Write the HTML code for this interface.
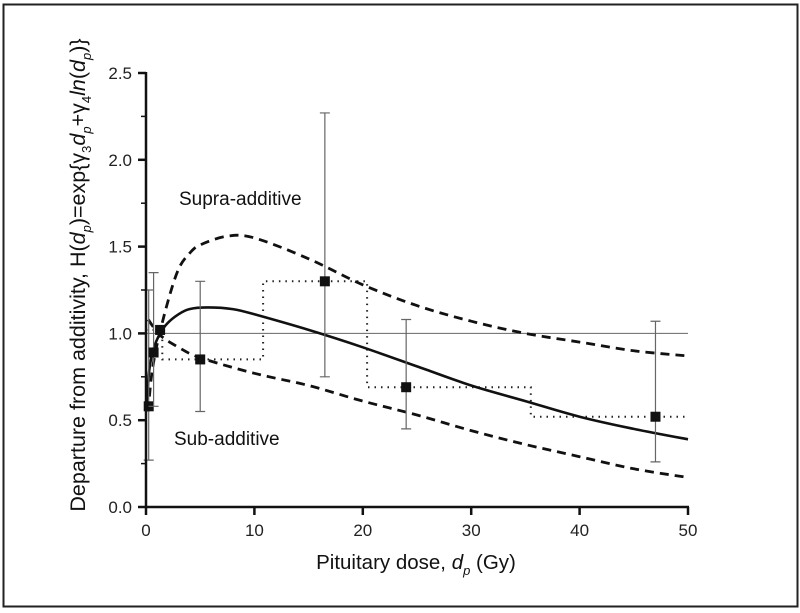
<!DOCTYPE html>
<html><head><meta charset="utf-8">
<style>
html,body{margin:0;padding:0;background:#fff;}
svg{display:block;font-family:"Liberation Sans",Arial,sans-serif;}
</style></head>
<body>
<svg id="chart" width="800" height="613" viewBox="0 0 800 613">
<rect x="3.5" y="4.5" width="794" height="602" fill="none" stroke="#222" stroke-width="2"/>
<g id="plot"></g>
<text x="179" y="205" font-size="19" fill="#111">Supra-additive</text>
<text x="174" y="445" font-size="19" fill="#111">Sub-additive</text>
<text x="416" y="569" font-size="20.5" text-anchor="middle" fill="#111">Pituitary dose, <tspan font-style="italic">d</tspan><tspan font-size="13" font-style="italic" dy="6">p</tspan><tspan dy="-6"> (Gy)</tspan></text>
<text transform="translate(85,275) rotate(-90)" font-size="21.5" text-anchor="middle" fill="#111">Departure from additivity, H(<tspan font-style="italic">d</tspan><tspan font-size="13" font-style="italic" dy="6">p</tspan><tspan dy="-6">)=exp{γ</tspan><tspan font-size="13" dy="6">3</tspan><tspan dy="-6" font-style="italic">d</tspan><tspan font-size="13" font-style="italic" dy="6">p</tspan><tspan dy="-6">+γ</tspan><tspan font-size="13" dy="6">4</tspan><tspan dy="-6" font-style="italic">ln</tspan><tspan>(</tspan><tspan font-style="italic">d</tspan><tspan font-size="13" font-style="italic" dy="6">p</tspan><tspan dy="-6">)}</tspan></text>
</svg>
<script>
const xTicks=[0,10,20,30,40,50];
const yTicks=[0.0,0.5,1.0,1.5,2.0,2.5];
const yTickLabels=["0.0","0.5","1.0","1.5","2.0","2.5"];
const yMinor=[0.25,0.75,1.25,1.75,2.25];
const pointX=[0.25,0.7,1.3,5,16.5,24,47];
const pointY=[0.58,0.89,1.02,0.85,1.30,0.69,0.52];
const errLo=[0.27,0.58,1.0,0.55,0.75,0.45,0.26];
const errHi=[1.25,1.35,1.02,1.30,2.27,1.08,1.07];
const stepX=[0,1.5,1.5,10.8,10.8,20.4,20.4,35.5,35.5,50];
const stepY=[1.02,1.02,0.85,0.85,1.30,1.30,0.69,0.69,0.52,0.52];
const fitX=[0.05,0.3,0.7,1.3,2,3,4,5.7,8,10,15,20,25,30,35,40,45,50];
const fitY=[0.56,0.79,0.91,1.00,1.06,1.11,1.14,1.15,1.14,1.11,1.02,0.92,0.81,0.70,0.61,0.52,0.45,0.39];
const upX=[0.2,0.5,1,2,3,4,5,7.5,10,15,20,25,30,35,40,45,50];
const upY=[0.55,0.75,0.93,1.18,1.37,1.46,1.51,1.56,1.55,1.43,1.28,1.16,1.07,1.00,0.95,0.90,0.87];
const loX=[0.2,1.3,3,5,10,15,20,25,30,35,40,45,50];
const loY=[1.08,0.99,0.92,0.86,0.77,0.70,0.61,0.53,0.44,0.36,0.29,0.22,0.17];

const NS="http://www.w3.org/2000/svg";
const g=document.getElementById('plot');
const X=v=>146+v*(688-146)/50;
const Y=v=>507-v*(507-73)/2.5;
function mk(tag,attrs){const e=document.createElementNS(NS,tag);for(const k in attrs)e.setAttribute(k,attrs[k]);g.appendChild(e);return e;}
function pts(xs,ys){return xs.map((x,i)=>X(x).toFixed(1)+','+Y(ys[i]).toFixed(1)).join(' ');}
function smooth(xs,ys){
  const p=xs.map((x,i)=>[X(x),Y(ys[i])]);
  let d='M'+p[0][0].toFixed(1)+','+p[0][1].toFixed(1);
  for(let i=0;i<p.length-1;i++){
    const p0=p[Math.max(0,i-1)],p1=p[i],p2=p[i+1],p3=p[Math.min(p.length-1,i+2)];
    const c1=[p1[0]+(p2[0]-p0[0])/6,p1[1]+(p2[1]-p0[1])/6];
    const c2=[p2[0]-(p3[0]-p1[0])/6,p2[1]-(p3[1]-p1[1])/6];
    d+=`C${c1[0].toFixed(1)},${c1[1].toFixed(1)} ${c2[0].toFixed(1)},${c2[1].toFixed(1)} ${p2[0].toFixed(1)},${p2[1].toFixed(1)}`;
  }
  return d;
}

let e;
e=mk('line',{x1:X(0),x2:X(50),y1:Y(1),y2:Y(1),stroke:'#666','stroke-width':1});



e=mk('polyline',{points:pts(stepX,stepY),fill:'none',stroke:'#222','stroke-width':2,'stroke-dasharray':'1.5 5'});



e=mk('path',{d:smooth(upX,upY),fill:'none',stroke:'#111','stroke-width':2.8,'stroke-dasharray':'9 6'});


e=mk('path',{d:smooth(loX,loY),fill:'none',stroke:'#111','stroke-width':2.8,'stroke-dasharray':'9 6'});


e=mk('path',{d:smooth(fitX,fitY),fill:'none',stroke:'#111','stroke-width':2.6,'stroke-linejoin':'round'});



pointX.forEach((px,i)=>{
  const x=X(px);
  let b=mk('path',{d:`M${x},${Y(errLo[i])}V${Y(errHi[i])}M${x-5},${Y(errLo[i])}h10M${x-5},${Y(errHi[i])}h10`,stroke:'#666','stroke-width':1.2,fill:'none'});
  
  
  let r=mk('rect',{x:x-5,y:Y(pointY[i])-5,width:10,height:10,fill:'#111'});
  
  
});

e=mk('line',{x1:X(0),x2:X(0),y1:Y(2.5)-1,y2:Y(0)+1,stroke:'#111','stroke-width':2.5});


e=mk('line',{x1:X(0)-1,x2:X(50)+1,y1:Y(0),y2:Y(0),stroke:'#111','stroke-width':2.5});


yTicks.forEach((v,i)=>{
  let t=mk('line',{x1:X(0)-8,x2:X(0),y1:Y(v),y2:Y(v),stroke:'#111','stroke-width':2.5});
  
  
  let l=mk('text',{x:X(0)-14,y:Y(v)+6,'font-size':17,'text-anchor':'end',fill:'#222'});
  l.textContent=yTickLabels[i];
  
  
});
yMinor.forEach(v=>{
  let t=mk('line',{x1:X(0)-5,x2:X(0),y1:Y(v),y2:Y(v),stroke:'#111','stroke-width':1.5});
  
  
});
xTicks.forEach(v=>{
  let t=mk('line',{x1:X(v),x2:X(v),y1:Y(0),y2:Y(0)+8,stroke:'#111','stroke-width':2.5});
  
  
  let l=mk('text',{x:X(v),y:Y(0)+29,'font-size':17,'text-anchor':'middle',fill:'#222'});
  l.textContent=String(v);
  
  
});
</script>
</body></html>
